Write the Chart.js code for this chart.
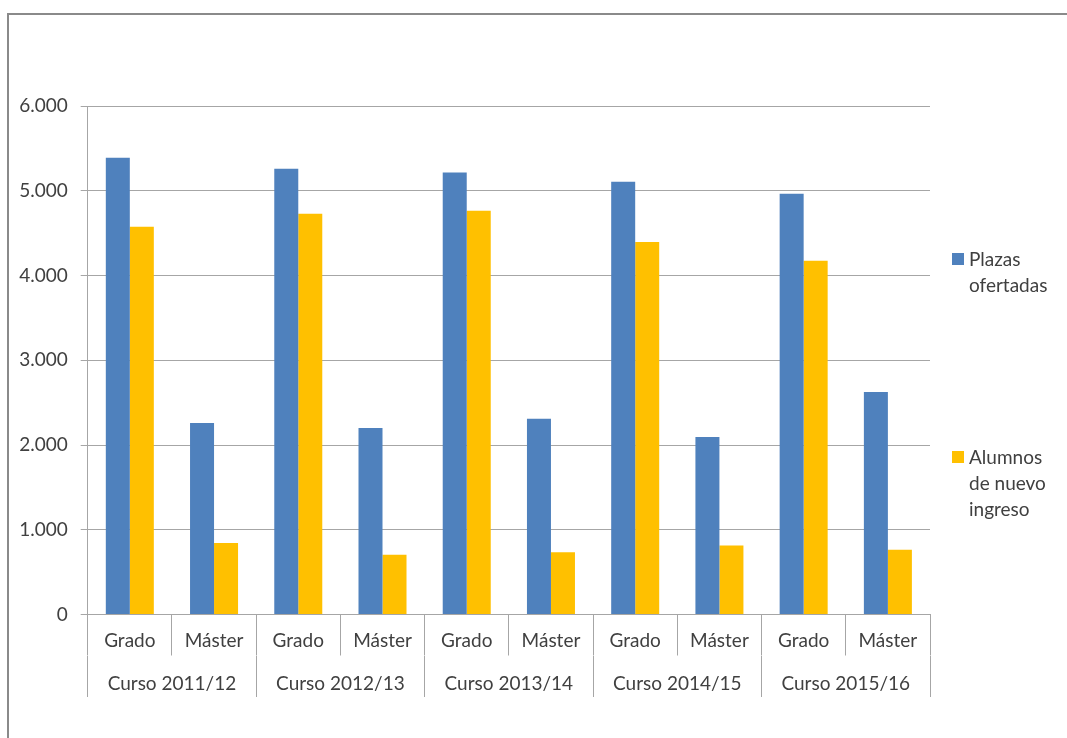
<!DOCTYPE html>
<html>
<head>
<meta charset="utf-8">
<script src="https://cdn.jsdelivr.net/npm/chart.js@4/dist/chart.umd.min.js"></script>
<style>
  html, body { margin: 0; padding: 0; background: #fff; overflow: hidden; }
  #frame { position: absolute; left: 7px; top: 13px; width: 1200px; height: 900px; border: 2px solid #8a8a8a; }
  #wrap { position: absolute; left: 0; top: 0; width: 1067px; height: 738px; }
  #legend { position: absolute; left: 952px; top: 0; width: 100px; font-family: Lato, "Open Sans", sans-serif; font-size: 19px; line-height: 26px; color: #404040; }
  #legend .item { position: absolute; left: 0; width: 100px; }
  #legend .box { position: absolute; left: 0; top: 7px; width: 12px; height: 12px; }
  #legend .txt { margin-left: 17px; width: 86px; }
</style>
</head>
<body>
<div id="frame"></div>
<div id="wrap">
  <canvas id="chart" width="1067" height="738"></canvas>
  <div id="legend"></div>
</div>
<script>
// Plazas ofertadas vs alumnos de nuevo ingreso, por curso y nivel
var cursos = ['Curso 2011/12', 'Curso 2012/13', 'Curso 2013/14', 'Curso 2014/15', 'Curso 2015/16'];
var niveles = ['Grado', 'Máster'];
var categorias = ['Grado', 'Máster', 'Grado', 'Máster', 'Grado', 'Máster', 'Grado', 'Máster', 'Grado', 'Máster'];

var plazas  = [5390, 2260, 5260, 2200, 5215, 2310, 5105, 2095, 4965, 2625];
var alumnos = [4575, 845, 4730, 705, 4765, 735, 4395, 815, 4175, 765];

var yTicks = [0, 1000, 2000, 3000, 4000, 5000, 6000];

var series = [
  { label: 'Plazas ofertadas', data: plazas, color: '#4f81bd' },
  { label: 'Alumnos de nuevo ingreso', data: alumnos, color: '#ffc000' }
];

var font = { family: 'Lato, "Open Sans", sans-serif', size: 19 };
var textColor = '#404040';
var lineColor = '#a6a6a6';

var chart = new Chart(document.getElementById('chart'), {
  type: 'bar',
  data: {
    labels: categorias,
    datasets: series.map(function(s) {
      return {
        label: s.label,
        data: s.data,
        backgroundColor: s.color,
        borderWidth: 0,
        categoryPercentage: 0.57,
        barPercentage: 1.0,
        xAxisID: 'x'
      };
    })
  },
  options: {
    responsive: false,
    animation: false,
    layout: { padding: { top: 106, right: 137, bottom: 41, left: 0 } },
    plugins: {
      legend: { display: false },
      tooltip: { enabled: false }
    },
    scales: {
      x: {
        type: 'category',
        offset: true,
        border: { display: true, color: lineColor, width: 1 },
        grid: { offset: true, drawOnChartArea: false, drawTicks: true, tickLength: 41, color: lineColor },
        ticks: { color: textColor, font: font, padding: -26, maxRotation: 0, autoSkip: false },
        afterFit: function(scale) { scale.height = 41.5; }
      },
      x2: {
        type: 'category',
        labels: cursos,
        position: 'bottom',
        weight: 1,
        offset: true,
        border: { display: false },
        grid: { offset: true, drawOnChartArea: false, drawTicks: true, tickLength: 41, color: lineColor },
        ticks: { color: textColor, font: font, padding: -25, maxRotation: 0, autoSkip: false },
        afterFit: function(scale) { scale.height = 41; }
      },
      y: {
        min: 0,
        max: 6000,
        border: { display: true, color: lineColor, width: 1 },
        grid: { color: lineColor, tickLength: 7 },
        afterBuildTicks: function(scale) {
          scale.ticks = yTicks.map(function(v) { return { value: v }; });
        },
        ticks: {
          color: textColor,
          font: font,
          padding: 13,
          callback: function(v) { return v.toLocaleString('es-ES', { useGrouping: 'always' }).replace(/\s/g, '.'); }
        },
        afterFit: function(scale) { scale.width = 87.7; }
      }
    }
  }
});

// legend at the right, built from the datasets
var legendTops = [246, 444];
var legend = document.getElementById('legend');
series.forEach(function(s, i) {
  var item = document.createElement('div');
  item.className = 'item';
  item.style.top = legendTops[i] + 'px';
  var box = document.createElement('div');
  box.className = 'box';
  box.style.background = s.color;
  var txt = document.createElement('div');
  txt.className = 'txt';
  txt.textContent = s.label;
  item.appendChild(box);
  item.appendChild(txt);
  legend.appendChild(item);
});
</script>
</body>
</html>
